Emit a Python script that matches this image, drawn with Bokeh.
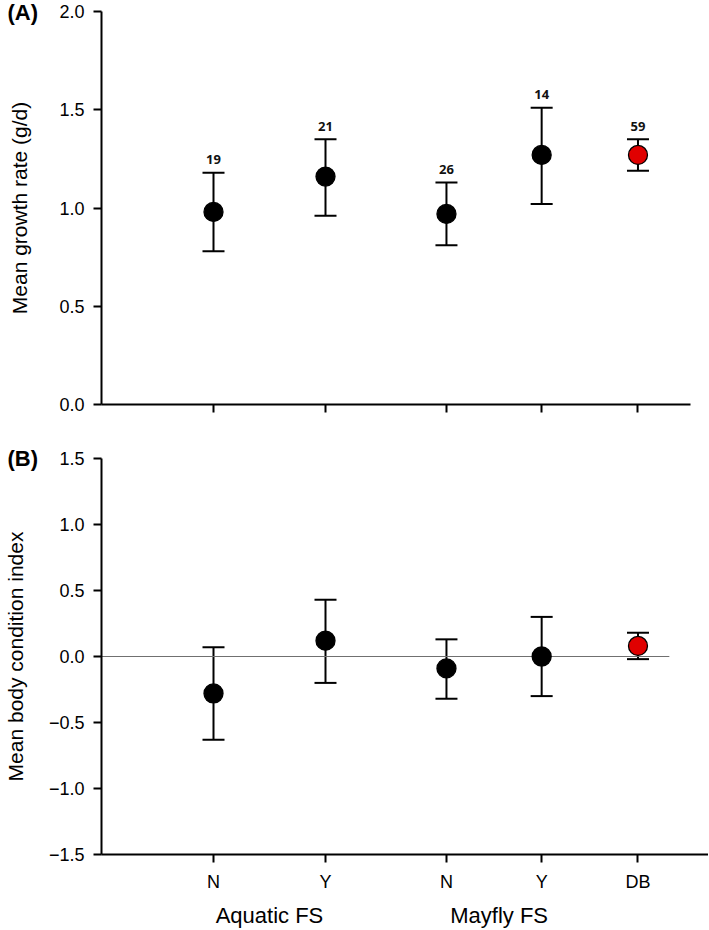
from bokeh.plotting import figure
from bokeh.models import (ColumnDataSource, Whisker, TeeHead, Range1d, FixedTicker,
                          LinearAxis, PrintfTickFormatter)
from bokeh.layouts import column
from bokeh.core.properties import value
from bokeh.embed import file_html
from bokeh.resources import INLINE

# ---- data ----
categories = ["N", "Y", "N", "Y", "DB"]
x_pos = [1.0, 2.0, 3.08, 3.93, 4.79]
group_labels = ["Aquatic FS", "Mayfly FS"]
group_pos = [1.5, 3.55]

growth_mean = [0.98, 1.16, 0.97, 1.27, 1.27]
growth_upper = [1.18, 1.35, 1.13, 1.51, 1.35]
growth_lower = [0.78, 0.96, 0.81, 1.02, 1.19]
sample_n = [19, 21, 26, 14, 59]

bci_mean = [-0.28, 0.12, -0.09, 0.00, 0.08]
bci_upper = [0.07, 0.43, 0.13, 0.30, 0.18]
bci_lower = [-0.63, -0.20, -0.32, -0.30, -0.02]

point_colors = ["black", "black", "black", "black", "#e00000"]

growth_ticks = [0.0, 0.5, 1.0, 1.5, 2.0]
bci_ticks = [-1.5, -1.0, -0.5, 0.0, 0.5, 1.0, 1.5]

FONT = "Liberation Sans"
PX_PER_UNIT = 112.0
LEFT = 97

srcA = ColumnDataSource(dict(x=x_pos, y=growth_mean, upper=growth_upper, lower=growth_lower,
                             color=point_colors, n=[str(v) for v in sample_n]))
srcB = ColumnDataSource(dict(x=x_pos, y=bci_mean, upper=bci_upper, lower=bci_lower,
                             color=point_colors))


def style(p, ylabel, ticks, label_standoff):
    p.outline_line_color = None
    p.xgrid.grid_line_color = None
    p.ygrid.grid_line_color = None
    for ax in p.axis:
        ax.axis_line_width = 2
        ax.axis_line_color = "black"
        ax.major_tick_line_width = 2
        ax.major_tick_line_color = "black"
        ax.major_tick_out = 8
        ax.major_tick_in = 0
        ax.minor_tick_line_color = None
        ax.major_label_text_font = FONT
        ax.major_label_text_color = "black"
    p.yaxis.ticker = FixedTicker(ticks=ticks)
    p.yaxis.formatter = PrintfTickFormatter(format="%.1f")
    p.yaxis.major_label_overrides = {t: ("%.1f" % t).replace("-", "\u2212") for t in ticks if t < 0}
    p.yaxis.major_label_text_font_size = "18px"
    p.yaxis.major_label_standoff = 9
    p.yaxis.axis_label = ylabel
    p.yaxis.axis_label_text_font = FONT
    p.yaxis.axis_label_text_font_style = "normal"
    p.yaxis.axis_label_text_font_size = "21px"
    p.yaxis.axis_label_text_color = "black"
    p.yaxis.axis_label_standoff = label_standoff
    p.xaxis.ticker = FixedTicker(ticks=x_pos)


def panel_title(p, text, standoff):
    p.title.text = text
    p.title.align = "left"
    p.title.vertical_align = "bottom"
    p.title.offset = -(LEFT - 3)
    p.title.standoff = standoff
    p.title.text_font = FONT
    p.title.text_font_size = "22px"
    p.title.text_font_style = "bold"
    p.title.text_color = "black"


def draw(p, src):
    w = Whisker(source=src, base="x", upper="upper", lower="lower", dimension="height",
                line_width=2, line_color="black",
                upper_head=TeeHead(size=22, line_width=2, line_color="black"),
                lower_head=TeeHead(size=22, line_width=2, line_color="black"))
    w.level = "underlay"
    p.add_layout(w)
    p.scatter("x", "y", source=src, size=19, fill_color="color", line_color="black",
              line_width=1.3)


# ---- panel A ----
frameA_w = 589
pA = figure(frame_width=frameA_w, frame_height=393,
            x_range=Range1d(0, frameA_w / PX_PER_UNIT), y_range=Range1d(0, 2.0),
            output_backend="svg", toolbar_location=None,
            min_border_left=LEFT, min_border_right=12, min_border_top=11, min_border_bottom=10)
style(pA, "Mean growth rate (g/d)", growth_ticks, 25)
pA.xaxis.major_label_overrides = {x: "" for x in x_pos}
pA.xaxis.major_label_standoff = 0
draw(pA, srcA)
pA.text(x="x", y="upper", text="n", source=srcA, y_offset=-13, text_align="center",
        text_baseline="middle", text_font=value("Open Sans"), text_font_size="13px",
        text_font_style="bold", text_color="#111111")
panel_title(pA, "(A)", -26)

# ---- panel B ----
frameB_w = 607
pB = figure(frame_width=frameB_w, frame_height=396,
            x_range=Range1d(0, frameB_w / PX_PER_UNIT), y_range=Range1d(-1.5, 1.5),
            output_backend="svg", toolbar_location=None,
            min_border_left=LEFT, min_border_right=0, min_border_top=44, min_border_bottom=71)
style(pB, "Mean body condition index", bci_ticks, 19)
pB.xaxis.major_label_overrides = {x: c for x, c in zip(x_pos, categories)}
pB.xaxis.major_label_text_font_size = "18px"
pB.xaxis.major_label_standoff = 9

gax = LinearAxis(ticker=FixedTicker(ticks=group_pos),
                 major_label_overrides={x: g for x, g in zip(group_pos, group_labels)},
                 axis_line_color=None, major_tick_line_color=None, minor_tick_line_color=None,
                 major_tick_out=0, major_tick_in=0, major_label_standoff=8,
                 major_label_text_font=FONT, major_label_text_font_size="22px",
                 major_label_text_color="black")
pB.add_layout(gax, "below")

pB.segment(x0=[0.0], x1=[5.07], y0=[0.0], y1=[0.0], line_color="#707070", line_width=1)
draw(pB, srcB)
panel_title(pB, "(B)", -24)

layout = column(pA, pB, spacing=0)
open("out.html", "w").write(file_html(layout, INLINE))
